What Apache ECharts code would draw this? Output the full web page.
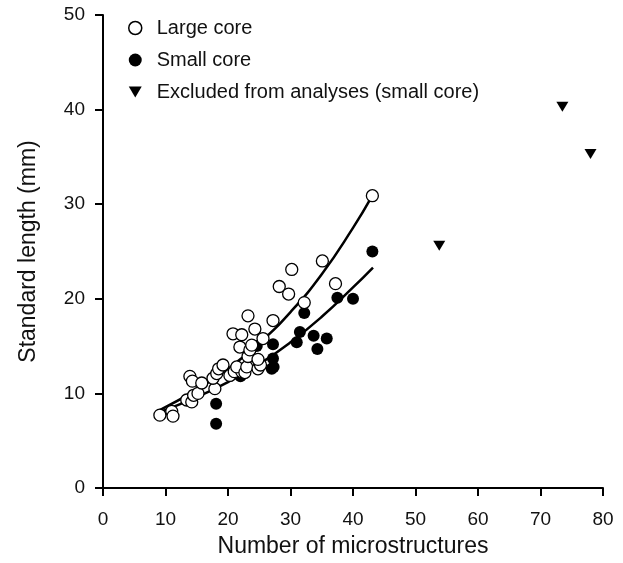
<!DOCTYPE html>
<html>
<head>
<meta charset="utf-8">
<script src="https://cdn.jsdelivr.net/npm/echarts@6/dist/echarts.min.js"></script>
<style>
  html, body { margin: 0; padding: 0; background: #fff; }
  #chart { width: 623px; height: 563px; }
</style>
</head>
<body>
<div id="chart"></div>
<script>
// values: [microstructures, standard length mm]
const largeCore = [
  [9.1, 7.7], [11.0, 8.1], [11.2, 7.6], [13.4, 9.3], [14.2, 9.1], [14.5, 9.8],
  [13.9, 11.8], [14.3, 11.3], [15.2, 10.0], [15.8, 11.1], [17.9, 10.5], [17.6, 11.6],
  [18.2, 12.1], [18.5, 12.6], [19.2, 13.0], [20.3, 11.9], [21.0, 12.3], [22.2, 12.3],
  [21.4, 12.8], [22.7, 12.2], [23.0, 12.8], [24.8, 12.6], [25.2, 13.0], [23.2, 13.9],
  [24.8, 13.6], [21.9, 14.9], [23.5, 14.6], [23.8, 15.1], [25.6, 15.8], [20.8, 16.3],
  [22.2, 16.2], [24.3, 16.8], [23.2, 18.2], [27.2, 17.7], [28.2, 21.3], [29.7, 20.5],
  [30.2, 23.1], [32.2, 19.6], [35.1, 24.0], [37.2, 21.6], [43.1, 30.9]
];
const smallCore = [
  [18.1, 8.9], [18.1, 6.8], [22.0, 11.8], [24.6, 15.0], [27.2, 15.2], [27.2, 13.7],
  [27.3, 12.8], [27.0, 12.6], [31.0, 15.4], [31.5, 16.5], [32.2, 18.5], [33.7, 16.1],
  [34.3, 14.7], [35.8, 15.8], [37.5, 20.1], [40.0, 20.0], [43.1, 25.0]
];
const excluded = [[53.8, 25.6], [73.5, 40.3], [78.0, 35.3]];

// points
const largeFit = [[9, 8.2], [15, 10.4], [20, 12.6], [25, 15.3], [30, 18.6], [35, 22.6], [40, 27.5], [43, 30.8]];
const smallFit = [[9, 8.0], [15, 9.6], [20, 11.2], [25, 13.1], [30, 15.4], [35, 18.1], [40, 21.2], [43.2, 23.3]];

const xTicks = [0, 10, 20, 30, 40, 50, 60, 70, 80];
const yTicks = [0, 10, 20, 30, 40, 50];

const font = 'Liberation Sans, Arial, sans-serif';
const chart = echarts.init(document.getElementById('chart'));

chart.setOption({
  animation: false,
  textStyle: { fontFamily: font },
  grid: { left: 103, right: 20, top: 15, bottom: 73 },
  legend: {
    orient: 'vertical',
    left: 123,
    top: 13,
    itemWidth: 13,
    itemHeight: 13,
    itemGap: 12,
    textStyle: { fontSize: 20, color: '#111', fontFamily: font, padding: [0, 0, 0, 10] },
    data: [
      { name: 'Large core', icon: 'circle', itemStyle: { color: '#fff', borderColor: '#000', borderWidth: 1.5 } },
      { name: 'Small core', icon: 'circle', itemStyle: { color: '#000' } },
      { name: 'Excluded from analyses (small core)', icon: 'path://M0,0 L12,0 L6,10 Z', itemStyle: { color: '#000' } }
    ]
  },
  xAxis: {
    type: 'value',
    min: xTicks[0],
    max: xTicks[xTicks.length - 1],
    interval: 10,
    name: 'Number of microstructures',
    nameLocation: 'middle',
    nameGap: 47,
    nameTextStyle: { fontSize: 23, color: '#111' },
    splitLine: { show: false },
    axisLine: { lineStyle: { color: '#000', width: 2 } },
    axisTick: { length: 8, lineStyle: { color: '#000', width: 2 } },
    axisLabel: { fontSize: 19, color: '#111', margin: 22 }
  },
  yAxis: {
    type: 'value',
    min: yTicks[0],
    max: yTicks[yTicks.length - 1],
    interval: 10,
    name: 'Standard length (mm)',
    nameLocation: 'middle',
    nameGap: 63,
    nameTextStyle: { fontSize: 23, color: '#111' },
    splitLine: { show: false },
    axisLine: { show: true, lineStyle: { color: '#000', width: 2 } },
    axisTick: { show: true, length: 8, lineStyle: { color: '#000', width: 2 } },
    axisLabel: { fontSize: 19, color: '#111', margin: 18 }
  },
  series: [
    {
      name: 'large fit', type: 'line', data: largeFit, smooth: true, showSymbol: false,
      lineStyle: { color: '#000', width: 2.5 }, z: 1
    },
    {
      name: 'small fit', type: 'line', data: smallFit, smooth: true, showSymbol: false,
      lineStyle: { color: '#000', width: 2.5 }, z: 1
    },
    {
      name: 'Small core', type: 'scatter', data: smallCore, symbol: 'circle', symbolSize: 12,
      itemStyle: { color: '#000', opacity: 1 }, z: 3
    },
    {
      name: 'Large core', type: 'scatter', data: largeCore, symbol: 'circle', symbolSize: 12,
      itemStyle: { color: '#fff', borderColor: '#000', borderWidth: 1.3, opacity: 1 }, z: 4
    },
    {
      name: 'Excluded from analyses (small core)', type: 'scatter', data: excluded,
      symbol: 'path://M0,0 L12,0 L6,10 Z', symbolSize: [12, 10],
      itemStyle: { color: '#000', opacity: 1 }, z: 3
    }
  ]
});
</script>
</body>
</html>
